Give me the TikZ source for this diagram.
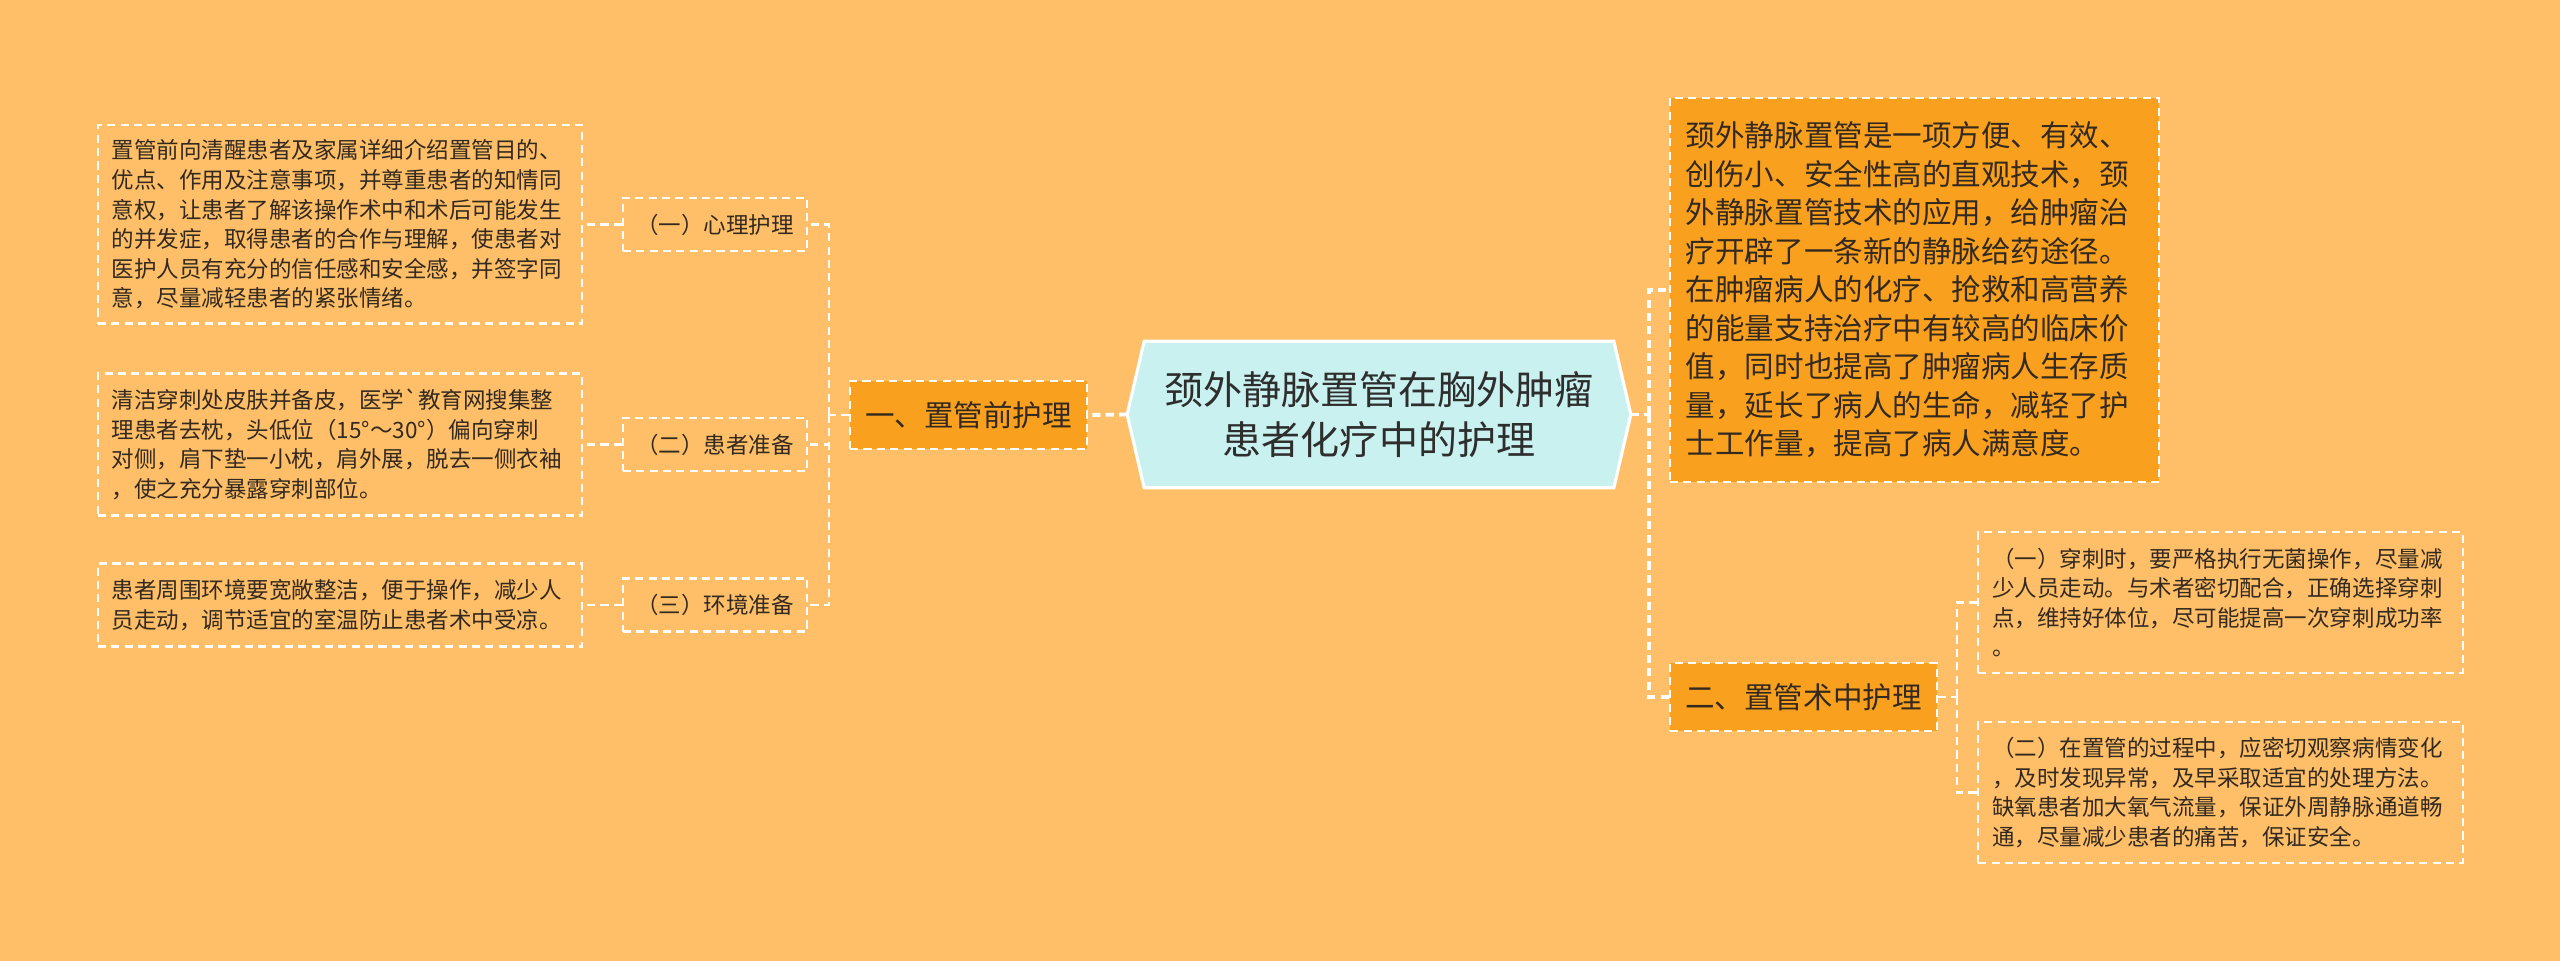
\documentclass[tikz,border=0pt]{standalone}
\usepackage{fontspec}
\newfontfamily\cjk{Noto Sans CJK SC}
\pgfdeclarelayer{background}
\pgfsetlayers{background,main}
\definecolor{bgc}{HTML}{FEBF68}
\definecolor{orgc}{HTML}{F9A11E}
\definecolor{cyanc}{HTML}{C9F1EF}
\definecolor{txtc}{HTML}{33291E}
\definecolor{roottxt}{HTML}{2E2E2E}
\begin{document}
\begin{tikzpicture}[x=0.01cm,y=-0.01cm,
  dashb/.style={draw=white, line width=0.6pt, dash pattern=on 2.3pt off 1.5pt},
  leaf/.style={dashb, text=txtc, font=\cjk\fontsize{6.4}{8.4}\selectfont,
    inner xsep=0.14cm, inner ysep=0pt, text width=4.56cm, align=left},
  lvtwo/.style={dashb, text=txtc, font=\cjk\fontsize{6.4}{8.4}\selectfont,
    minimum width=1.84cm, minimum height=0.53cm, inner sep=0pt, align=center},
  lvone/.style={dashb, fill=orgc, text=txtc, font=\cjk\fontsize{8.4}{10.95}\selectfont,
    minimum height=0.68cm, inner xsep=0.15cm, inner ysep=0pt, align=center},
  descbox/.style={dashb, fill=orgc, text=txtc, font=\cjk\fontsize{8.4}{10.95}\selectfont,
    text width=4.57cm, inner xsep=0.16cm, inner ysep=0pt, align=left, minimum height=3.84cm},
  rootbox/.style={text=roottxt, font=\cjk\fontsize{11.1}{14.2}\selectfont,
    minimum width=5.02cm, minimum height=1.45cm, inner sep=0pt, align=center},
  mainline/.style={draw=white, line width=1.1pt, dash pattern=on 2.3pt off 1.5pt},
  subline/.style={draw=white, line width=0.7pt, dash pattern=on 2.3pt off 1.5pt}
]
\useasboundingbox (0,0) rectangle (2560,961);

% root
\node[rootbox] (root) at (1379,414.5) {颈外静脉置管在胸外肿瘤\\患者化疗中的护理};

% left branch
\node[lvone] (la) at (968.5,415) {一、置管前护理};
\node[lvtwo] (la1) at (715,224.5) {（一）心理护理};
\node[lvtwo] (la2) at (715,444.5) {（二）患者准备};
\node[lvtwo] (la3) at (715,605) {（三）环境准备};
\node[leaf, minimum height=1.98cm] (lf1) at (340,224.5) {置管前向清醒患者及家属详细介绍置管目的、\\优点、作用及注意事项，并尊重患者的知情同\\意权，让患者了解该操作术中和术后可能发生\\的并发症，取得患者的合作与理解，使患者对\\医护人员有充分的信任感和安全感，并签字同\\意，尽量减轻患者的紧张情绪。};
\node[leaf, minimum height=1.42cm] (lf2) at (340,444.5) {清洁穿刺处皮肤并备皮，医学`教育网搜集整\\理患者去枕，头低位（15°～30°）偏向穿刺\\对侧，肩下垫一小枕，肩外展，脱去一侧衣袖\\，使之充分暴露穿刺部位。};
\node[leaf, minimum height=0.83cm] (lf3) at (340,605) {患者周围环境要宽敞整洁，便于操作，减少人\\员走动，调节适宜的室温防止患者术中受凉。};

% right branch
\node[descbox] (desc) at (1914.5,290) {颈外静脉置管是一项方便、有效、\\创伤小、安全性高的直观技术，颈\\外静脉置管技术的应用，给肿瘤治\\疗开辟了一条新的静脉给药途径。\\在肿瘤病人的化疗、抢救和高营养\\的能量支持治疗中有较高的临床价\\值，同时也提高了肿瘤病人生存质\\量，延长了病人的生命，减轻了护\\士工作量，提高了病人满意度。};
\node[lvone] (rb) at (1803.5,697) {二、置管术中护理};
\node[leaf, minimum height=1.41cm] (rf1) at (2220.5,602.5) {（一）穿刺时，要严格执行无菌操作，尽量减\\少人员走动。与术者密切配合，正确选择穿刺\\点，维持好体位，尽可能提高一次穿刺成功率\\。};
\node[leaf, minimum height=1.41cm] (rf2) at (2220.5,792.5) {（二）在置管的过程中，应密切观察病情变化\\，及时发现异常，及早采取适宜的处理方法。\\缺氧患者加大氧气流量，保证外周静脉通道畅\\通，尽量减少患者的痛苦，保证安全。};

% junctions
\coordinate (jl) at (829,415);
\coordinate (jr) at (1649,414.5);
\coordinate (jrb) at (1957,697);

% connectors
\draw[mainline] (root.west) -- (la.east);
\draw[subline] (la.west) -- (jl);
\draw[subline] (jl) |- (la1.east);
\draw[subline] (jl) |- (la2.east);
\draw[subline] (jl) |- (la3.east);
\draw[subline] (la1.west) -- (lf1.east);
\draw[subline] (la2.west) -- (lf2.east);
\draw[subline] (la3.west) -- (lf3.east);

\draw[mainline] (root.east) -- (jr);
\draw[mainline] (jr) |- (desc.west);
\draw[mainline] (jr) |- (rb.west);
\draw[subline] (rb.east) -- (jrb);
\draw[subline] (jrb) |- (rf1.west);
\draw[subline] (jrb) |- (rf2.west);

\begin{pgfonlayer}{background}
\fill[bgc] (0,0) rectangle (2560,961);
\filldraw[fill=cyanc, draw=white, line width=0.9pt]
  (root.west) -- ([xshift=0.17cm]root.north west) -- ([xshift=-0.17cm]root.north east)
  -- (root.east) -- ([xshift=-0.17cm]root.south east) -- ([xshift=0.17cm]root.south west) -- cycle;
\end{pgfonlayer}
\end{tikzpicture}
\end{document}
